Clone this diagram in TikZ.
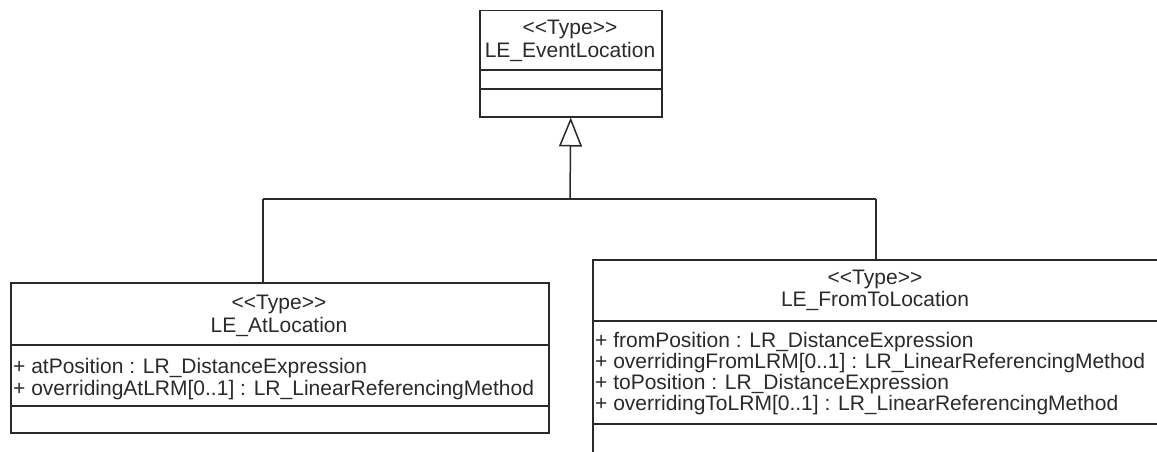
\documentclass[tikz,border=0pt]{standalone}
\usepackage{fontspec}
\newfontfamily\umlfont{Liberation Sans}
\usetikzlibrary{arrows.meta}
\definecolor{ink}{HTML}{2A2A2A}
\begin{document}
\begin{tikzpicture}[x=1pt,y=-1pt,
  classbox/.style={draw=ink, line width=1.5pt, rectangle, inner sep=0pt, anchor=north west},
  lbl/.style={text=ink, font=\umlfont\fontsize{21}{24}\selectfont, inner sep=0pt, anchor=base},
  attr/.style={lbl, anchor=base west},
  conn/.style={draw=ink, line width=1.5pt},
  gen/.style={conn, -{Triangle[open, length=29pt, width=23pt]}}]
\useasboundingbox (0,0) rectangle (1157,452);
\clip (0,0) rectangle (1157,452);

% LE_EventLocation
\node[classbox, minimum width=182pt, minimum height=106pt] (ev) at (479,10) {};
\draw[conn] (479,70) -- (661,70);
\draw[conn] (479,89) -- (661,89);
\node[lbl] (evs) at (570,35) {<<Type>>};
\node[lbl] (evn) at (570,58) {LE\_EventLocation};

% LE_AtLocation
\node[classbox, minimum width=538pt, minimum height=150pt] (at) at (10,282) {};
\draw[conn] (10,345) -- (548,345);
\draw[conn] (10,406) -- (548,406);
\node[lbl] (ats) at (279,309) {<<Type>>};
\node[lbl] (atn) at (279,332) {LE\_AtLocation};
\node[attr] (ata1) at (13,373) {+ atPosition : LR\_DistanceExpression};
\node[attr] (ata2) at (13,395) {+ overridingAtLRM[0..1] : LR\_LinearReferencingMethod};

% LE_FromToLocation
\node[classbox, minimum width=567pt, minimum height=205pt] (ft) at (592,259) {};
\draw[conn] (592,321) -- (1159,321);
\draw[conn] (592,424) -- (1159,424);
\node[lbl] (fts) at (875,284) {<<Type>>};
\node[lbl] (ftn) at (875,306) {LE\_FromToLocation};
\node[attr] (fta1) at (595,347) {+ fromPosition : LR\_DistanceExpression};
\node[attr] (fta2) at (595,368) {+ overridingFromLRM[0..1] : LR\_LinearReferencingMethod};
\node[attr] (fta3) at (595,389) {+ toPosition : LR\_DistanceExpression};
\node[attr] (fta4) at (595,410) {+ overridingToLRM[0..1] : LR\_LinearReferencingMethod};

% generalization
\coordinate (j) at (570,199);
\coordinate (jl) at (263,199);
\coordinate (jr) at (876,199);
\draw[conn] (jl) -- (jr);
\draw[conn] (jl) -- (jl |- at.north);
\draw[conn] (jr) -- (jr |- ft.north);
\draw[gen] (j) -- (ev.south);
\end{tikzpicture}
\end{document}
